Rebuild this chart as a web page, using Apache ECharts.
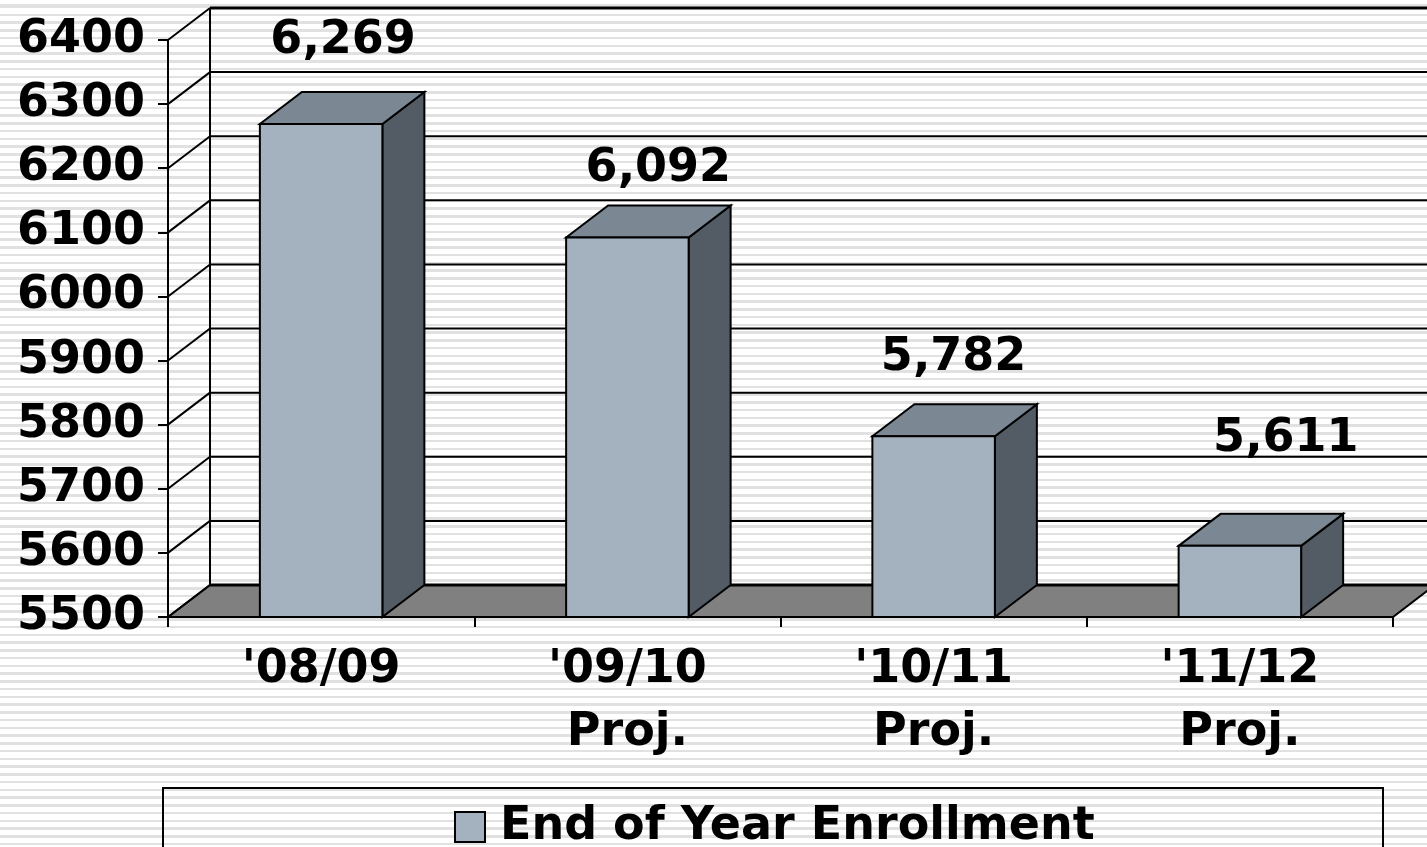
<!DOCTYPE html>
<html>
<head>
<meta charset="utf-8">
<title>End of Year Enrollment</title>
<script src="https://cdn.jsdelivr.net/npm/echarts@6/dist/echarts.min.js"></script>
<style>
  html, body {
    margin: 0;
    padding: 0;
    width: 1427px;
    height: 847px;
    overflow: hidden;
    background-color: #fff;
    background-image: repeating-linear-gradient(180deg, #e1e1e1 0px, #e1e1e1 2.5px, #ffffff 2.5px, #ffffff 7.75px);
    background-position: 0 6px;
  }
  #chart { width: 1427px; height: 847px; }
</style>
</head>
<body>
<div id="chart"></div>
<script>
// Enrollment figures per school year
const categories = ["'08/09", "'09/10\nProj.", "'10/11\nProj.", "'11/12\nProj."];
const enrollment = [6269, 6092, 5782, 5611];
const yTicks = [5500, 5600, 5700, 5800, 5900, 6000, 6100, 6200, 6300, 6400];
const seriesName = 'End of Year Enrollment';

// 3D look: depth offset of the back wall / bar backs
const DEPTH_X = 42;
const DEPTH_Y = 32;
const FONT = 'bold 46px "DejaVu Sans"';
// per-bar placement of the value labels relative to the bar's front top edge
const labelShift = [[22, -83], [31, -68], [20, -78], [46, -107]];

const chart = echarts.init(document.getElementById('chart'), null, { renderer: 'canvas' });

function renderFrame(params, api) {
  const cs = params.coordSys;
  const left = cs.x, right = cs.x + cs.width;
  const top = cs.y, bottom = cs.y + cs.height;
  const children = [];
  // floor
  children.push({
    type: 'polygon',
    shape: { points: [[left, bottom], [left + DEPTH_X, bottom - DEPTH_Y], [right + DEPTH_X, bottom - DEPTH_Y], [right, bottom]] },
    style: { fill: '#808080', stroke: '#000', lineWidth: 2 }
  });
  // back wall left edge
  children.push({
    type: 'line',
    shape: { x1: left + DEPTH_X, y1: top - DEPTH_Y, x2: left + DEPTH_X, y2: bottom - DEPTH_Y },
    style: { stroke: '#000', lineWidth: 2 }
  });
  yTicks.forEach(function (v, i) {
    const y = api.coord([0, v])[1];
    children.push({
      type: 'line',
      shape: { x1: left + DEPTH_X, y1: y - DEPTH_Y, x2: right + DEPTH_X + 10, y2: y - DEPTH_Y },
      style: { stroke: '#000', lineWidth: (i === 0 || i === yTicks.length - 1) ? 3 : 2 }
    });
    children.push({
      type: 'line',
      shape: { x1: left, y1: y, x2: left + DEPTH_X, y2: y - DEPTH_Y },
      style: { stroke: '#000', lineWidth: 2 }
    });
  });
  return { type: 'group', children: children };
}

function renderBar(params, api) {
  const i = api.value(0);
  const v = api.value(1);
  const topPt = api.coord([i, v]);
  const basePt = api.coord([i, yTicks[0]]);
  const bw = api.size([1, 0])[0] * 0.4;
  const x0 = topPt[0] - bw / 2, x1 = topPt[0] + bw / 2;
  const yT = topPt[1], yB = basePt[1];
  const edge = { stroke: '#000', lineWidth: 2, lineJoin: 'miter' };
  const shift = labelShift[params.dataIndex] || [DEPTH_X / 2, -80];
  return {
    type: 'group',
    children: [
      {
        type: 'polygon',
        shape: { points: [[x1, yT], [x1 + DEPTH_X, yT - DEPTH_Y], [x1 + DEPTH_X, yB - DEPTH_Y], [x1, yB]] },
        style: Object.assign({ fill: '#535b64' }, edge)
      },
      {
        type: 'polygon',
        shape: { points: [[x0, yT], [x0 + DEPTH_X, yT - DEPTH_Y], [x1 + DEPTH_X, yT - DEPTH_Y], [x1, yT]] },
        style: Object.assign({ fill: '#7b8793' }, edge)
      },
      {
        type: 'rect',
        shape: { x: x0, y: yT, width: bw, height: yB - yT },
        style: Object.assign({ fill: '#a4b1bf' }, edge)
      },
      {
        type: 'text',
        style: {
          text: v.toLocaleString('en-US'),
          x: topPt[0] + shift[0],
          y: yT + shift[1],
          align: 'center',
          verticalAlign: 'middle',
          font: FONT,
          fill: '#000'
        }
      }
    ]
  };
}

const option = {
  backgroundColor: 'transparent',
  animation: false,
  grid: { left: 168, right: 34, top: 40, bottom: 230, containLabel: false },
  xAxis: {
    type: 'category',
    data: categories,
    boundaryGap: true,
    axisLine: { show: true, lineStyle: { color: '#000', width: 2 } },
    axisTick: { show: true, length: 10, lineStyle: { color: '#000', width: 2 } },
    axisLabel: {
      color: '#000', fontFamily: 'DejaVu Sans', fontWeight: 'bold', fontSize: 46,
      lineHeight: 63, margin: 22, interval: 0
    },
    splitLine: { show: false }
  },
  yAxis: {
    type: 'value',
    min: yTicks[0],
    max: yTicks[yTicks.length - 1],
    interval: 100,
    axisLine: { show: true, lineStyle: { color: '#000', width: 2 } },
    axisTick: { show: true, length: 10, lineStyle: { color: '#000', width: 2 } },
    axisLabel: {
      color: '#000', fontFamily: 'DejaVu Sans', fontWeight: 'bold', fontSize: 46, margin: 23,
      formatter: function (v) { return String(v); }
    },
    splitLine: { show: false }
  },
  legend: {
    data: [{ name: seriesName, icon: 'rect' }],
    left: 449,
    top: 797,
    itemWidth: 30,
    itemHeight: 30,
    itemStyle: { color: '#a4b1bf', borderColor: '#000', borderWidth: 2 },
    textStyle: {
      color: '#000', fontFamily: 'DejaVu Sans', fontWeight: 'bold', fontSize: 46,
      lineHeight: 50, padding: [0, 0, 0, 10]
    },
    selectedMode: false
  },
  graphic: [{
    type: 'rect',
    shape: { x: 163, y: 788, width: 1220, height: 90 },
    style: { fill: 'none', stroke: '#000', lineWidth: 2 },
    silent: true
  }],
  series: [
    {
      type: 'custom',
      renderItem: renderFrame,
      data: [[0, yTicks[0]]],
      encode: { x: 0, y: 1 },
      silent: true,
      z: 1
    },
    {
      name: seriesName,
      type: 'custom',
      renderItem: renderBar,
      data: enrollment.map(function (v, i) { return [i, v]; }),
      encode: { x: 0, y: 1 },
      itemStyle: { color: '#a4b1bf' },
      z: 3
    }
  ]
};

chart.setOption(option);
</script>
</body>
</html>
